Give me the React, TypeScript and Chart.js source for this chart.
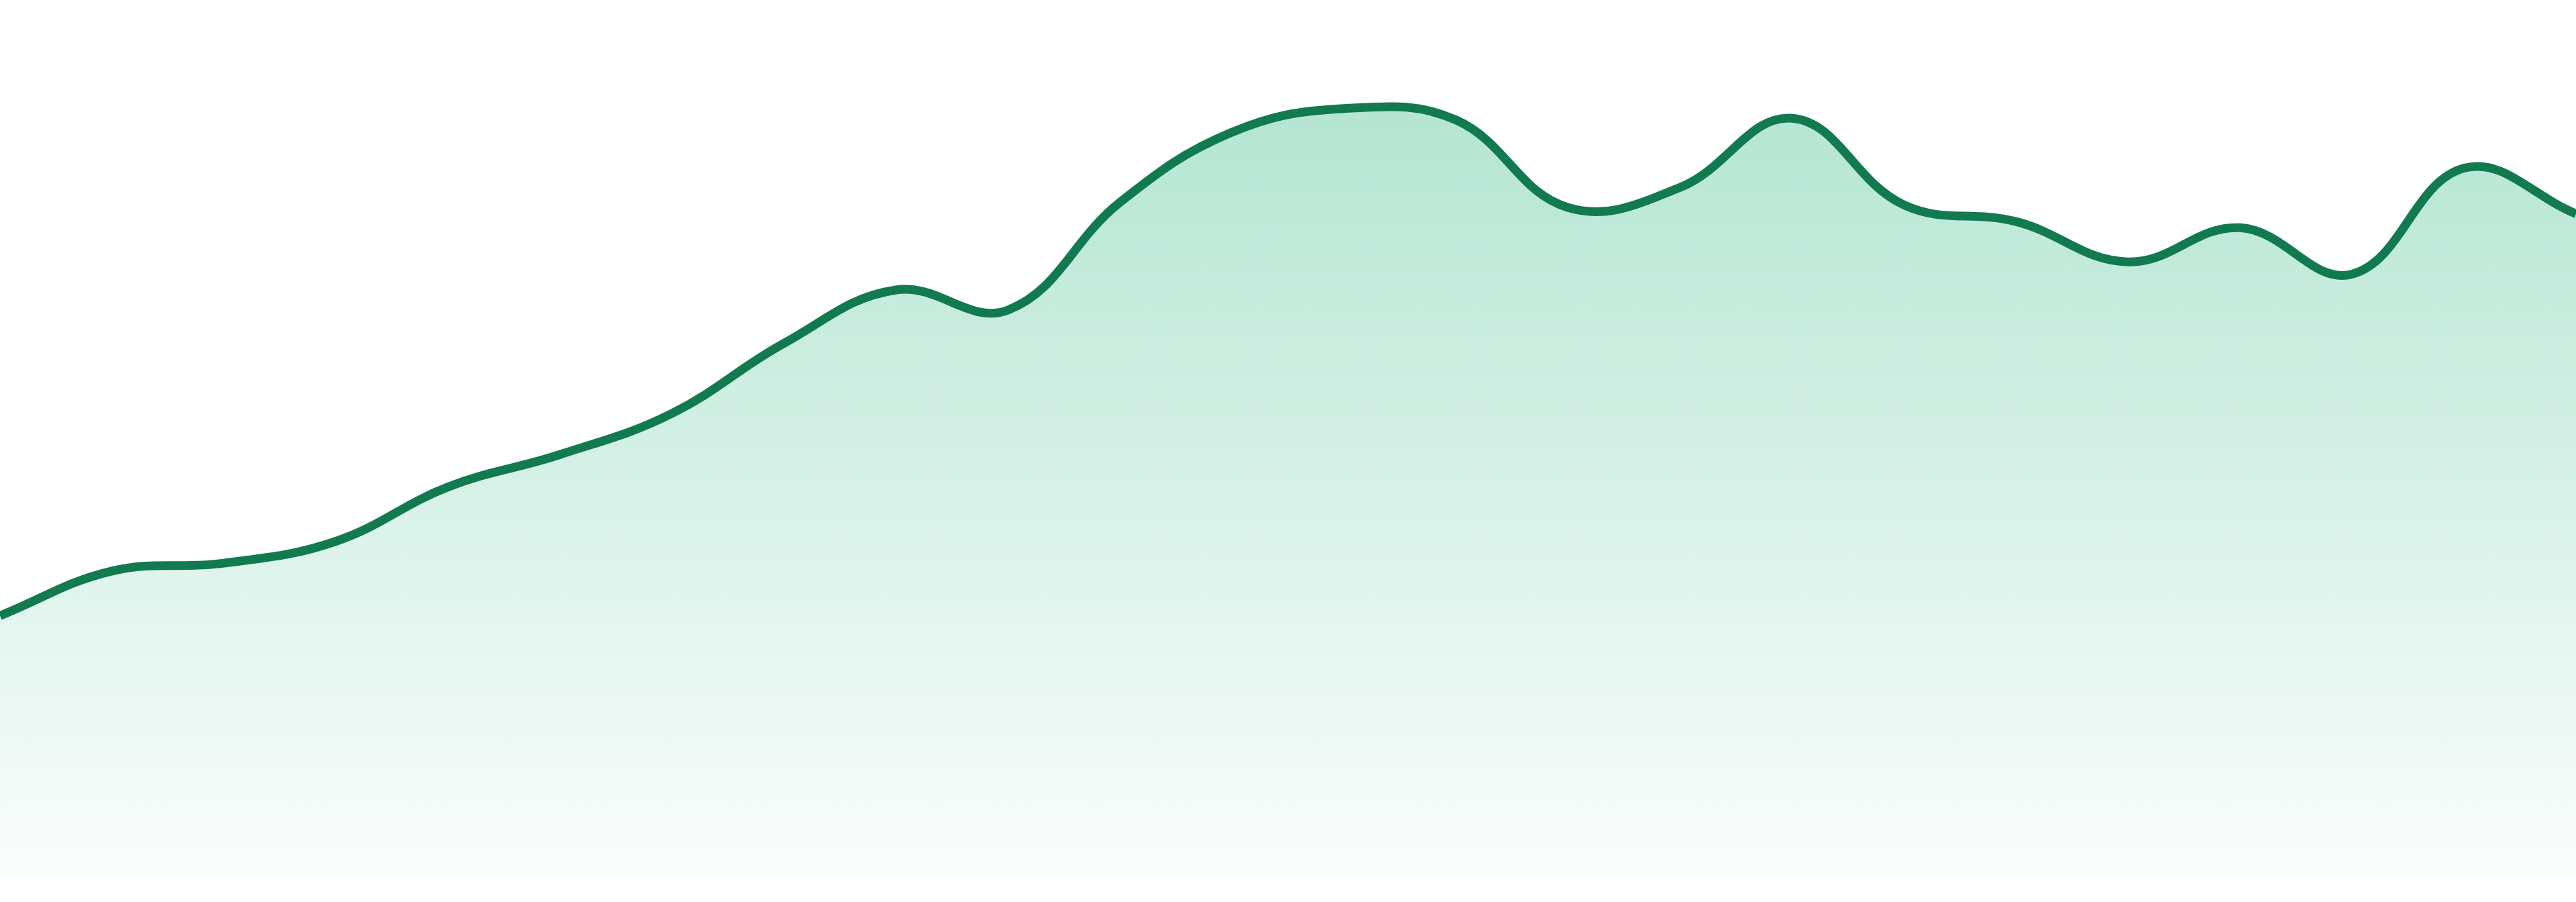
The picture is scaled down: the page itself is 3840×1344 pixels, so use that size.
import { useEffect, useRef } from "react";
import { Chart, registerables } from "chart.js";

Chart.register(...registerables);

// one point per period (scale 0..100)
const labels = [
  "P1", "P2", "P3", "P4", "P5", "P6", "P7", "P8", "P9", "P10", "P11", "P12",
  "P13", "P14", "P15", "P16", "P17", "P18", "P19", "P20", "P21", "P22", "P23", "P24",
];
const values = [
  29.7, 34.8, 35.7, 38.2, 44.4, 48.1, 52.8, 60.8, 66.9, 64.6, 76.9, 84.9,
  87.6, 86.3, 76.3, 78.6, 86.5, 76.6, 74.7, 70.1, 74.0, 68.7, 80.8, 75.6,
];
const yMin = 0;
const yMax = 100;

const lineColor = "#117A4F";

const App = () => {
  const canvasRef = useRef<HTMLCanvasElement | null>(null);
  const chartRef = useRef<Chart | null>(null);

  useEffect(() => {
    document.body.style.margin = "0";
    if (!canvasRef.current) return;
    const ctx = canvasRef.current.getContext("2d");
    if (!ctx) return;

    chartRef.current = new Chart(ctx, {
      type: "line",
      data: {
        labels,
        datasets: [
          {
            label: "Value",
            data: values,
            borderColor: lineColor,
            borderWidth: 13,
            fill: "origin",
            tension: 0.4,
            pointRadius: 0,
            pointHoverRadius: 0,
            backgroundColor: (context: any) => {
              const { chart } = context;
              const area = chart.chartArea;
              if (!area) return "rgba(20,175,115,0.2)";
              // fade from mint at the top to almost white at the bottom
              const g = chart.ctx.createLinearGradient(0, area.top, 0, area.bottom);
              g.addColorStop(0, "rgba(20,175,115,0.36)");
              g.addColorStop(1, "rgba(20,175,115,0.02)");
              return g;
            },
          },
        ],
      },
      options: {
        responsive: true,
        maintainAspectRatio: false,
        animation: false,
        layout: { padding: 0 },
        scales: {
          x: { display: false },
          y: { display: false, min: yMin, max: yMax },
        },
        plugins: {
          legend: { display: false },
          tooltip: { enabled: false },
        },
      },
    });

    return () => {
      chartRef.current?.destroy();
      chartRef.current = null;
    };
  }, []);

  return (
    <div style={{ position: "relative", width: "100%", height: "1305px" }}>
      <canvas ref={canvasRef} />
    </div>
  );
};

export default App;
